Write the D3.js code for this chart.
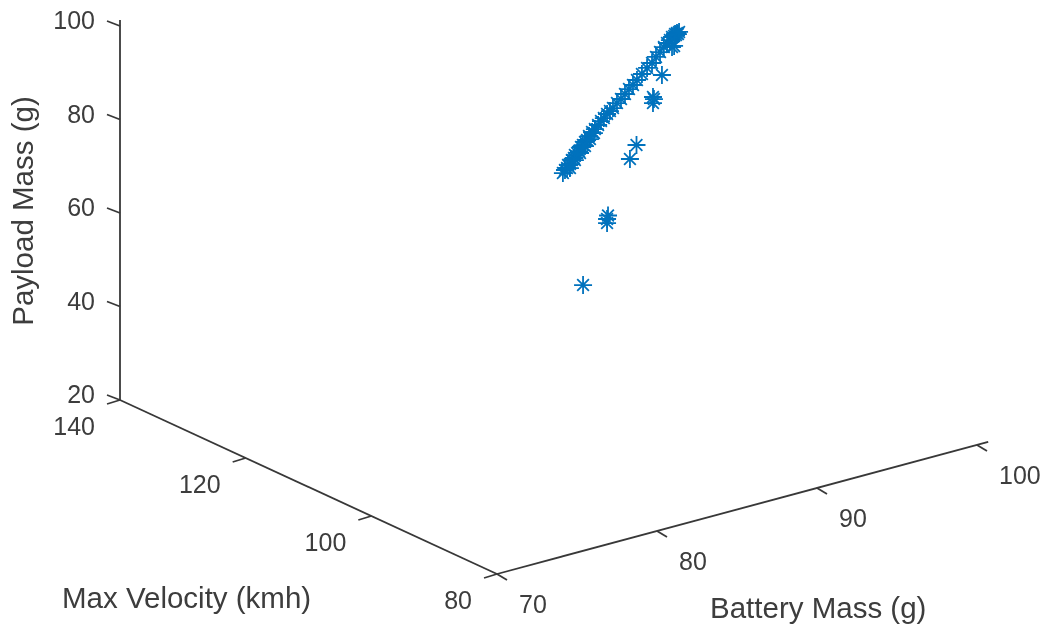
<!DOCTYPE html>
<html lang="en">
<head>
    <meta charset="UTF-8">
    <title>Payload vs Battery vs Velocity</title>
    <script src="https://d3js.org/d3.v7.min.js"></script>
    <style>
        body { margin: 0; background: #fff; overflow: hidden; }
        text { font-family: "Liberation Sans", Arial, sans-serif; font-size: 25px; fill: #3c3c3c; }
        text.title { font-size: 29.5px; }
        .axis-line { stroke: #383838; stroke-width: 1.8; fill: none; }
        .star { fill: none; stroke: #0072bd; stroke-width: 1.8; }
    </style>
</head>
<body>
    <svg id="chart" width="1044" height="629">
        <defs>
            <filter id="soft" filterUnits="userSpaceOnUse" x="0" y="0" width="1044" height="629">
                <feGaussianBlur stdDeviation="0.6"></feGaussianBlur>
            </filter>
        </defs>
    </svg>
    <script>
        const batteryTicks = [70, 80, 90, 100];
        const velocityTicks = [80, 100, 120, 140];
        const payloadTicks = [20, 40, 60, 80, 100];

        // velocity can't be read separately from a single 2D view, so it is held at 110
        const battery = [
            85.90, 86.03, 86.16, 86.22, 86.34, 86.47, 86.59, 86.65, 86.79, 86.91,
            87.03, 87.15, 87.28, 87.41, 87.53, 87.72, 87.90, 88.10, 88.28, 88.46,
            88.66, 88.84, 89.03, 89.28, 89.53, 89.78, 90.03, 90.28, 90.53, 90.84,
            91.16, 91.47, 91.72, 91.97, 92.21, 92.41, 92.59, 92.72, 92.85, 92.91,
            92.97, 93.03, 93.09, 93.16,
            86.34, 86.65, 86.97, 87.28, 87.59, 87.84,
            87.16, 88.72, 88.66, 88.66, 90.09, 90.50, 91.53, 91.53, 91.59, 92.09, 92.85, 92.72
        ];
        const velocity = [
            110, 110, 110, 110, 110, 110, 110, 110, 110, 110,
            110, 110, 110, 110, 110, 110, 110, 110, 110, 110,
            110, 110, 110, 110, 110, 110, 110, 110, 110, 110,
            110, 110, 110, 110, 110, 110, 110, 110, 110, 110,
            110, 110, 110, 110,
            110, 110, 110, 110, 110, 110,
            110, 110, 110, 110, 110, 110, 110, 110, 110, 110, 110, 110
        ];
        const payload = [
            72.53, 73.06, 73.37, 73.95, 74.05, 74.79, 75.11, 75.69, 76.01, 76.31,
            77.06, 77.37, 77.90, 78.21, 78.95, 79.62, 80.10, 80.78, 81.46, 81.94,
            82.62, 83.09, 83.56, 84.40, 85.03, 85.87, 86.70, 87.34, 88.18, 89.17,
            90.17, 90.95, 92.01, 92.83, 93.67, 94.36, 94.83, 95.36, 95.46, 95.83,
            95.55, 95.93, 95.65, 96.03,
            73.19, 74.62, 75.83, 77.04, 78.25, 79.30,
            47.41, 60.86, 59.30, 60.16, 71.68, 74.30, 83.62, 82.33, 83.13, 87.81, 93.32, 93.22
        ];

        const svg = d3.select("#chart");
        const root = svg.append("g").attr("filter", "url(#soft)");

        // fixed oblique view: every axis is a scale onto a 2D offset
        const origin = [497, 574];
        const batteryScale = d3.scaleLinear().domain([70, 100]).range([[0, 0], [480, -129]]);
        const velocityScale = d3.scaleLinear().domain([80, 140]).range([[0, 0], [-377, -174]]);
        const payloadScale = d3.scaleLinear().domain([20, 100]).range([[0, 0], [0, -374]]);

        function project(b, v, p) {
            const a = batteryScale(b), c = velocityScale(v), d = payloadScale(p);
            return [origin[0] + a[0] + c[0] + d[0], origin[1] + a[1] + c[1] + d[1]];
        }

        const line = d3.line();

        function drawAxis(from, to, ticks, pos, tickDir) {
            root.append("path").attr("class", "axis-line").attr("d", line([from, to]));
            root.selectAll(null)
                .data(ticks)
                .enter()
                .append("path")
                .attr("class", "axis-line")
                .attr("d", d => {
                    const q = pos(d);
                    return line([q, [q[0] + tickDir[0], q[1] + tickDir[1]]]);
                });
        }

        // the battery and payload lines run a little past their last tick
        drawAxis(project(70, 80, 20), project(100.7, 80, 20), batteryTicks, d => project(d, 80, 20), [10, 6]);
        drawAxis(project(70, 80, 20), project(70, 140, 20), velocityTicks, d => project(70, d, 20), [-13, 4]);
        drawAxis(project(70, 140, 20), project(70, 140, 101.3), payloadTicks, d => project(70, 140, d), [-13, -5]);

        // tick labels
        root.selectAll(null)
            .data(payloadTicks)
            .enter()
            .append("text")
            .attr("text-anchor", "end")
            .attr("x", d => project(70, 140, d)[0] - 25)
            .attr("y", d => project(70, 140, d)[1] + 3)
            .text(d => d);

        root.selectAll(null)
            .data(velocityTicks)
            .enter()
            .append("text")
            .attr("text-anchor", "end")
            .attr("x", d => project(70, d, 20)[0] - 25)
            .attr("y", d => project(70, d, 20)[1] + 35)
            .text(d => d);

        root.selectAll(null)
            .data(batteryTicks)
            .enter()
            .append("text")
            .attr("x", d => project(d, 80, 20)[0] + 22)
            .attr("y", d => project(d, 80, 20)[1] + 39)
            .text(d => d);

        // axis titles
        root.append("text").attr("class", "title").attr("x", 62).attr("y", 608).text("Max Velocity (kmh)");
        root.append("text").attr("class", "title").attr("x", 710).attr("y", 618).text("Battery Mass (g)");
        root.append("text")
            .attr("class", "title")
            .attr("text-anchor", "middle")
            .attr("transform", "translate(33,211) rotate(-90)")
            .text("Payload Mass (g)");

        // MATLAB style '*' marker
        const starSymbol = {
            draw(context, size) {
                const r = Math.sqrt(size), k = r * 0.65;
                context.moveTo(-r, 0); context.lineTo(r, 0);
                context.moveTo(0, -r); context.lineTo(0, r);
                context.moveTo(-k, -k); context.lineTo(k, k);
                context.moveTo(-k, k); context.lineTo(k, -k);
            }
        };
        const star = d3.symbol().type(starSymbol).size(81);

        root.append("g")
            .selectAll("path")
            .data(d3.range(battery.length))
            .enter()
            .append("path")
            .attr("class", "star")
            .attr("d", star)
            .attr("transform", i => {
                const q = project(battery[i], velocity[i], payload[i]);
                return `translate(${q[0]},${q[1]})`;
            });
    </script>
</body>
</html>
